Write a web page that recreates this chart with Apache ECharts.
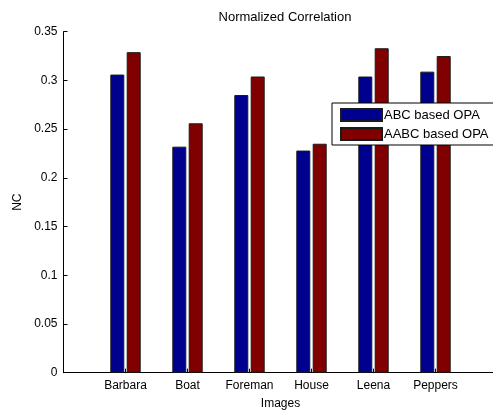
<!DOCTYPE html>
<html>
<head>
<meta charset="utf-8">
<script src="https://cdn.jsdelivr.net/npm/echarts@6/dist/echarts.min.js"></script>
<style>
html,body{margin:0;padding:0;background:#fff;}
#chart{width:493px;height:410px;}
</style>
</head>
<body>
<div id="chart"></div>
<script>
const categories = ['Barbara', 'Boat', 'Foreman', 'House', 'Leena', 'Peppers'];
const abcOPA = [0.306, 0.232, 0.285, 0.228, 0.304, 0.309];
const aabcOPA = [0.329, 0.256, 0.304, 0.235, 0.333, 0.325];
const yTicks = [0, 0.05, 0.1, 0.15, 0.2, 0.25, 0.3, 0.35];

const font = 'Liberation Sans, Arial, sans-serif';
const chart = echarts.init(document.getElementById('chart'), null, {renderer: 'canvas'});
chart.setOption({
  backgroundColor: '#fff',
  animation: false,
  title: {
    text: 'Normalized Correlation',
    left: 280, top: 6, textAlign: 'center',
    textStyle: {fontFamily: font, fontSize: 13, fontWeight: 'normal', color: '#000'}
  },
  legend: {
    orient: 'vertical',
    left: 332, top: 103,
    padding: [5, 8, 4, 8],
    itemWidth: 41, itemHeight: 12, itemGap: 5,
    backgroundColor: '#fff',
    borderColor: '#000', borderWidth: 1,
    icon: 'rect',
    textStyle: {fontFamily: font, fontSize: 13, color: '#000', padding: [0, 0, 0, -3], width: 112, overflow: 'none'},
    data: ['ABC based OPA', 'AABC based OPA']
  },
  grid: {left: 63.5, top: 31.7, bottom: 37.3, right: -4.5, outerBoundsMode: 'none', containLabel: false},
  xAxis: {
    type: 'value', min: 0, max: 7, interval: 1,
    name: 'Images', nameLocation: 'middle', nameGap: 25,
    nameTextStyle: {fontFamily: font, fontSize: 12, color: '#000'},
    axisLine: {show: true, lineStyle: {color: '#000', width: 1}},
    axisTick: {show: true, inside: true, length: 4, lineStyle: {color: '#000'}},
    axisLabel: {
      fontFamily: font, fontSize: 12, color: '#000', margin: 7,
      formatter: v => categories[v - 1] || ''
    },
    splitLine: {show: false}
  },
  yAxis: {
    type: 'value', min: 0, max: 0.35, interval: 0.05,
    name: 'NC', nameLocation: 'middle', nameGap: 40, nameRotate: 90,
    nameTextStyle: {fontFamily: font, fontSize: 12, color: '#000'},
    axisLine: {show: true, lineStyle: {color: '#000', width: 1}},
    axisTick: {show: true, inside: true, length: 4, lineStyle: {color: '#000'}},
    axisLabel: {
      fontFamily: font, fontSize: 12, color: '#000', margin: 6,
      formatter: v => String(yTicks.reduce((a, b) => Math.abs(b - v) < Math.abs(a - v) ? b : a))
    },
    splitLine: {show: false}
  },
  series: [
    {
      name: 'ABC based OPA', type: 'bar',
      data: abcOPA.map((v, i) => [i + 1, v]),
      barWidth: 14, barGap: '17%',
      itemStyle: {color: '#00008f', borderColor: '#1a1a1a', borderWidth: 1}
    },
    {
      name: 'AABC based OPA', type: 'bar',
      data: aabcOPA.map((v, i) => [i + 1, v]),
      barWidth: 14, barGap: '17%',
      itemStyle: {color: '#800000', borderColor: '#1a1a1a', borderWidth: 1}
    }
  ]
});
</script>
</body>
</html>
